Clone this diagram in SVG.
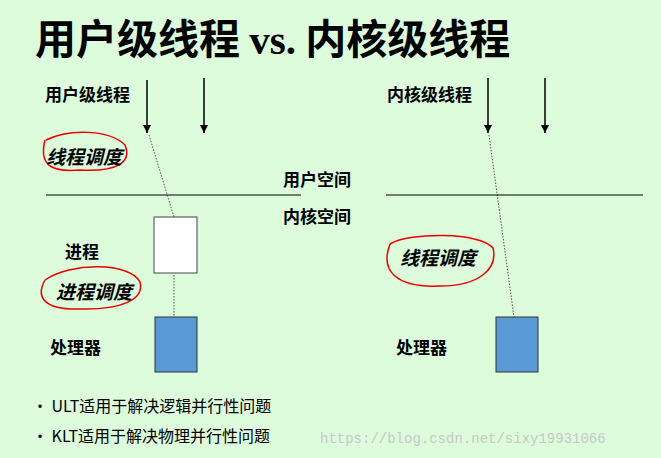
<svg xmlns="http://www.w3.org/2000/svg" width="661" height="458" viewBox="0 0 661 458">
<style>
.t{font-family:"Noto Sans CJK SC","Liberation Sans",sans-serif;font-weight:bold;fill:#000}
.i{font-style:italic;font-size:19px}
.l{font-size:17px}
.r{fill:none;stroke:#e00;stroke-width:1.5}
.d{stroke:#555;stroke-width:1;stroke-dasharray:1.5 1.5}
</style>
<defs><marker id="a" markerWidth="8" markerHeight="8" refX="8" refY="4" orient="auto" markerUnits="userSpaceOnUse"><path d="M0,0 L8,4 L0,8 Z" fill="#000"/></marker></defs>
<rect width="661" height="458" fill="#dcfcdc"/>
<text x="35" y="54" font-size="41" font-family="Noto Sans CJK SC,sans-serif" font-weight="bold">用户级线程 <tspan font-family="Liberation Serif,serif">vs.</tspan> 内核级线程</text>
<g id="connectors">
<line x1="147" y1="80" x2="147" y2="133" stroke="#000" stroke-width="1.5" marker-end="url(#a)"/>
<line x1="204" y1="78" x2="204" y2="133" stroke="#000" stroke-width="1.5" marker-end="url(#a)"/>
<line x1="488" y1="78" x2="488" y2="133" stroke="#000" stroke-width="1.5" marker-end="url(#a)"/>
<line x1="545" y1="78" x2="545" y2="133" stroke="#000" stroke-width="1.5" marker-end="url(#a)"/>
<line class="d" x1="149" y1="135" x2="174" y2="217"/>
<line class="d" x1="174" y1="275" x2="174" y2="317"/>
<line class="d" x1="489" y1="135" x2="514" y2="317"/>
<line x1="46" y1="195" x2="301" y2="195" stroke="#000" stroke-width="1"/>
<line x1="386" y1="195" x2="643" y2="195" stroke="#000" stroke-width="1"/>
</g>
<g id="labels">
<text class="t l" x="45" y="101">用户级线程</text>
<text class="t l" x="387" y="101">内核级线程</text>
<text class="t l" x="283" y="186">用户空间</text>
<text class="t l" x="283" y="223">内核空间</text>
<text class="t l" x="65" y="258">进程</text>
<text class="t l" x="50" y="354">处理器</text>
<text class="t l" x="396" y="354">处理器</text>
</g>
<g id="sched1"><path class="r" d="M46,140 C70,128 110,130 125,145 C132,162 118,172 80,170 C55,172 38,168 45,140"/><text class="t i" x="46" y="164">线程调度</text></g>
<g id="sched2"><path class="r" d="M45,280 C70,262 130,262 140,282 C145,300 120,310 80,309 C45,310 35,298 45,280"/><text class="t i" x="56" y="299">进程调度</text></g>
<g id="sched3"><path class="r" d="M390,244 C410,232 480,232 493,248 C498,268 480,286 440,286 C395,288 380,270 390,244"/><text class="t i" x="400" y="265">线程调度</text></g>
<g id="process"><rect x="154" y="217" width="43" height="56" fill="#fff" stroke="#444"/></g>
<g id="cpu1"><rect x="155" y="317" width="42" height="55" fill="#5b9bd5" stroke="#333"/></g>
<g id="cpu2"><rect x="496" y="317" width="42" height="55" fill="#5b9bd5" stroke="#333"/></g>
<g id="bullets" font-family="Noto Sans CJK SC,Liberation Sans,sans-serif" font-size="16">
<text x="32" y="412">•  ULT适用于解决逻辑并行性问题</text>
<text x="32" y="442">•  KLT适用于解决物理并行性问题</text>
<text x="320" y="443" font-family="Liberation Mono,monospace" font-size="14" fill="#c8c8c8">https://blog.csdn.net/sixy19931066</text>
</g>
</svg>
